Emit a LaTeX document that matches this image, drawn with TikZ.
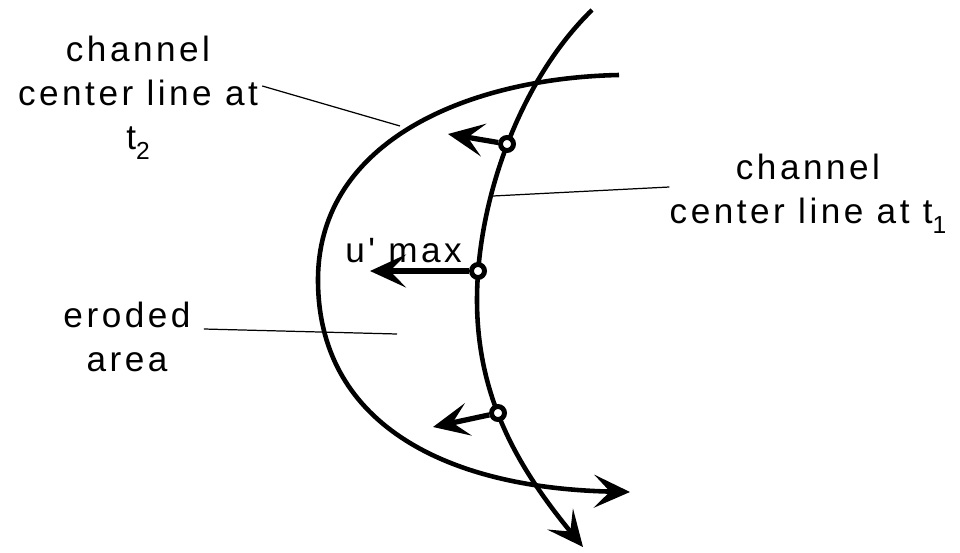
\documentclass[tikz,border=0pt]{standalone}
\usepackage{fontspec}
\newfontfamily\labelfont[LetterSpace=10]{Liberation Sans}
\usetikzlibrary{arrows.meta}
\newcommand{\lowidx}[1]{\raisebox{-6pt}{\fontsize{14}{14}\selectfont #1}}

\begin{document}
\begin{tikzpicture}[
    x=0.2mm, y=-0.2mm,
    barbed/.style={-{Stealth[length=7.2mm, width=6.6mm, inset=3.2mm]}},
    channel/.style={line width=2.6pt, color=black},
    leader/.style={line width=0.7pt, color=black},
    vec/.style={barbed, line width=3pt, color=black},
    dot/.style={circle, draw, line width=2.8pt, fill=white, inner sep=0pt, minimum size=2.6mm},
    lbl/.style={font=\labelfont\fontsize{20}{25}\selectfont, align=center, inner sep=0pt}
]
    \useasboundingbox (0,0) rectangle (960,552);

    % points on the centre line at t1
    \coordinate (p1) at (507,144);
    \coordinate (p2) at (478,271);
    \coordinate (p3) at (498,413);

    % centre line at t1
    \draw[channel, barbed] (592,10) .. controls (520,80) and (477,200) .. (477,300)
        .. controls (477,400) and (520,470) .. (583,547);

    % centre line at t2
    \draw[channel, barbed] (619,75) .. controls (470,78) and (318,140) .. (318,280)
        .. controls (318,420) and (440,488) .. (630,492);

    % migration vectors
    \node[dot] (d1) at (p1) {};
    \node[dot] (d2) at (p2) {};
    \node[dot] (d3) at (p3) {};
    \coordinate (a1) at (448,134);
    \coordinate (a2) at (370,271);
    \coordinate (a3) at (433,427);
    \draw[vec] (d1) -- (a1);
    \draw[vec] (d2) -- (a2);
    \draw[vec] (d3) -- (a3);

    % labels
    \node[lbl] (ttwo) at (138,98) {channel\\center line at\\t\lowidx{2}};
    \node[lbl] (tone) at (808,194) {channel\\center line at t\lowidx{1}};
    \node[lbl] (ero) at (127,337) {eroded\\area};
    \node[lbl, anchor=base west] (umax) at (345,262) {u' max};

    % leaders
    \coordinate (ttwoend) at (400,126);
    \coordinate (toneend) at (493,196);
    \coordinate (eroend) at (397,334);
    \draw[leader] ([shift={(4,-12)}]ttwo.east) -- (ttwoend);
    \draw[leader] ([shift={(0,-7)}]tone.west) -- (toneend);
    \draw[leader] ([shift={(13,-8)}]ero.east) -- (eroend);

\end{tikzpicture}
\end{document}
